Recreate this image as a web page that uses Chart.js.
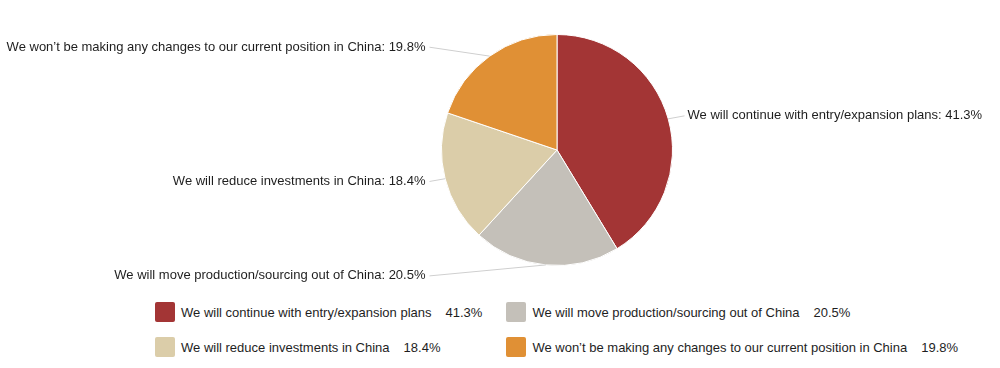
<!DOCTYPE html>
<html>
<head>
<meta charset="utf-8">
<script src="https://cdn.jsdelivr.net/npm/chart.js@4"></script>
<style>
  html, body { margin: 0; padding: 0; background: #fff; }
  body { width: 1000px; height: 368px; position: relative; overflow: hidden;
         font-family: "Liberation Sans", Arial, sans-serif; }
  #wrap { position: absolute; left: 0; top: 0; width: 1000px; height: 300px; }
  #legend { position: absolute; left: 155px; top: 302px; display: grid;
            grid-template-columns: auto auto; column-gap: 24px; row-gap: 15px; }
  .item { display: flex; align-items: center; height: 20px; font-size: 13px; color: #1e1e1e; }
  .swatch { width: 20px; height: 20px; border-radius: 2px; margin-right: 6px; }
  .val { margin-left: 14px; }
</style>
</head>
<body>
<div id="wrap"><canvas id="pie"></canvas></div>
<div id="legend"></div>
<script>
// answers, clockwise from 12 o'clock
const labels = [
  'We will continue with entry/expansion plans',
  'We will move production/sourcing out of China',
  'We will reduce investments in China',
  'We won\u2019t be making any changes to our current position in China'
];
const values = [41.3, 20.5, 18.4, 19.8];
const colors = ['#a33535', '#c4c0b9', '#dbcda9', '#e09035'];

// outside labels with a leader line
const pieLabels = {
  id: 'pieLabels',
  afterDatasetsDraw(chart) {
    const ctx = chart.ctx;
    const meta = chart.getDatasetMeta(0);
    ctx.save();
    ctx.font = '13px "Liberation Sans", Arial, sans-serif';
    ctx.textBaseline = 'middle';
    meta.data.forEach((arc, i) => {
      const p = arc.getProps(['x', 'y', 'outerRadius', 'startAngle', 'endAngle'], true);
      const mid = (p.startAngle + p.endAngle) / 2;
      const dx = Math.cos(mid), dy = Math.sin(mid);
      const ex = p.x + p.outerRadius * dx, ey = p.y + p.outerRadius * dy;
      const ly = p.y + (p.outerRadius + 11) * dy;
      const right = dx >= 0;
      const lx = p.x + (right ? 1 : -1) * (p.outerRadius + 12);
      ctx.strokeStyle = '#cfcfcf';
      ctx.lineWidth = 1;
      ctx.beginPath();
      ctx.moveTo(ex, ey);
      ctx.lineTo(lx, ly);
      ctx.stroke();
      ctx.fillStyle = '#1e1e1e';
      ctx.textAlign = right ? 'left' : 'right';
      ctx.fillText(labels[i] + ': ' + values[i] + '%', lx + (right ? 3 : -4), ly);
    });
    ctx.restore();
  }
};

new Chart(document.getElementById('pie'), {
  type: 'pie',
  data: {
    labels: labels,
    datasets: [{
      data: values,
      backgroundColor: colors,
      borderColor: '#fff',
      borderWidth: 1
    }]
  },
  options: {
    responsive: true,
    maintainAspectRatio: false,
    animation: false,
    layout: { padding: { left: 400, right: 286, top: 34, bottom: 34 } },
    plugins: {
      legend: { display: false },
      tooltip: { enabled: false }
    }
  },
  plugins: [pieLabels]
});

// two-column legend below the pie
const legend = document.getElementById('legend');
labels.forEach((name, i) => {
  const item = document.createElement('div');
  item.className = 'item';
  item.innerHTML = '<span class="swatch" style="background:' + colors[i] + '"></span>' +
    '<span>' + name + '</span><span class="val">' + values[i] + '%</span>';
  legend.appendChild(item);
});
</script>
</body>
</html>
